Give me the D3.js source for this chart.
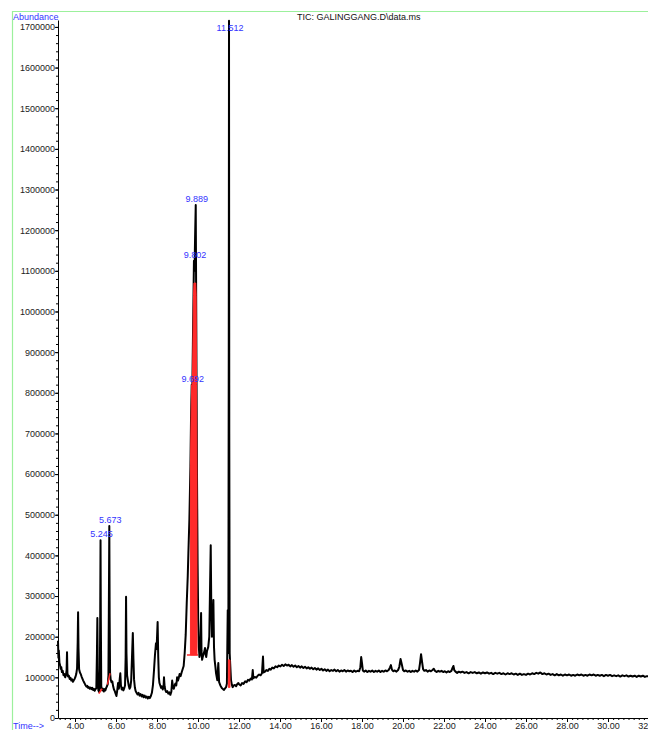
<!DOCTYPE html>
<html lang="en">
<head>
<meta charset="utf-8">
<title>TIC: GALINGGANG.D\data.ms</title>
<script src="https://d3js.org/d3.v7.min.js"></script>
<style type="text/css">
    body { margin: 0; background: #fff; }
    svg text { font-family: "Liberation Sans", Arial, sans-serif; }
</style>
</head>
<body>
<script>
// retention time (min), abundance
var tracePre = [
  [3.17,190000],[3.19,148000],[3.21,166000],[3.24,136000],[3.27,130000],[3.3,121000],[3.33,125000],[3.36,113000],
  [3.4,116000],[3.44,105000],[3.48,108000],[3.52,100000],[3.56,106000],[3.59,118000],[3.61,162000],[3.63,110000],
  [3.66,102000],[3.7,104000],[3.74,96000],[3.78,99000],[3.82,92000],[3.86,95000],[3.9,89000],[3.94,93000],
  [3.98,96000],[4.02,101000],[4.06,108000],[4.1,122000],[4.13,185000],[4.15,260000],[4.17,172000],[4.2,120000],
  [4.24,112000],[4.28,108000],[4.32,102000],[4.36,97000],[4.4,92000],[4.44,88000],[4.48,84000],[4.52,80000],
  [4.56,77000],[4.6,79000],[4.64,74000],[4.68,76000],[4.72,72000],[4.76,75000],[4.8,71000],[4.84,74000],
  [4.88,69000],[4.92,72000],[4.96,67000],[5.0,71000],[5.04,73000],[5.07,160000],[5.09,246000],[5.11,120000],
  [5.14,68000],[5.18,64000],[5.21,76000],[5.23,260000],[5.245,437000],[5.26,240000],[5.28,78000],[5.32,68000],
  [5.36,72000],[5.4,65000],[5.44,71000],[5.48,68000],[5.52,74000],[5.56,78000],[5.6,84000],[5.63,105000],
  [5.65,260000],[5.673,472000],[5.69,250000],[5.71,112000],[5.74,95000],[5.78,88000],[5.82,90000],[5.86,78000],
  [5.9,70000],[5.94,66000],[5.98,60000],[6.02,54000],[6.06,68000],[6.1,86000],[6.14,72000],[6.18,95000],
  [6.21,110000],[6.24,80000],[6.28,70000],[6.32,74000],[6.36,68000],[6.4,73000],[6.44,80000],[6.47,150000],
  [6.49,298000],[6.51,160000],[6.54,105000],[6.58,92000],[6.62,80000],[6.66,72000],[6.7,76000],[6.74,92000],
  [6.78,150000],[6.82,209000],[6.85,145000],[6.88,95000],[6.92,75000],[6.96,66000],[7.0,62000],[7.05,58000],
  [7.1,62000],[7.15,55000],[7.2,59000],[7.25,53000],[7.3,57000],[7.35,51000],[7.4,55000],[7.45,50000],
  [7.5,53000],[7.55,48000],[7.6,52000],[7.65,49000],[7.7,54000],[7.75,62000],[7.8,80000],[7.85,115000],
  [7.9,155000],[7.95,184000],[7.98,170000],[8.03,236000],[8.06,150000],[8.09,100000],[8.12,86000],[8.16,80000],
  [8.2,74000],[8.24,78000],[8.28,70000],[8.32,76000],[8.34,100000],[8.37,78000],[8.41,68000],[8.45,64000],
  [8.5,66000],[8.55,60000],[8.6,63000],[8.65,57000],[8.7,65000],[8.74,92000],[8.78,76000],[8.82,72000],
  [8.86,80000],[8.9,85000],[8.94,80000],[8.98,100000],[9.02,92000],[9.06,98000],[9.1,108000],[9.15,103000],
  [9.2,112000],[9.25,120000],[9.3,128000]
];

var traceMain = [
  [9.35,160000],[9.4,205000],[9.45,283000],[9.5,350000],[9.53,405000],[9.58,490000],[9.63,620000],[9.66,740000],
  [9.692,820000],[9.72,800000],[9.75,920000],[9.78,1040000],[9.802,1125000],[9.83,1100000],[9.86,1190000],
  [9.889,1262000],[9.91,1040000],[9.93,820000],[9.95,600000],[9.98,380000],[10.01,240000],[10.04,175000],
  [10.07,150000],[10.1,158000],[10.13,205000],[10.15,258000],[10.17,165000],[10.2,143000],[10.23,150000],
  [10.26,155000],[10.3,162000],[10.34,172000],[10.37,158000],[10.4,150000],[10.44,165000],[10.5,175000],
  [10.55,200000],[10.59,330000],[10.62,425000],[10.65,260000],[10.68,200000],[10.72,240000],[10.75,290000],
  [10.78,175000],[10.81,143000],[10.85,125000],[10.88,110000],[10.94,93000],[10.99,135000],[11.03,88000],
  [11.09,80000],[11.16,74000],[11.22,71000],[11.27,69000],[11.32,73000],[11.37,76000],[11.41,85000],
  [11.45,265000],[11.48,160000],[11.5,900000],[11.512,1715000],[11.525,700000],[11.545,160000],[11.56,143000],
  [11.61,93000],[11.65,82000],[11.69,76000],[11.74,80000],[11.8,81000],[11.86,78000],[11.92,84000],[11.97,86000]
];

var traceLate = [
  [12.0,83000],[12.08,80000],[12.15,86000],[12.22,84000],[12.3,90000],[12.37,88000],[12.44,94000],[12.5,92000],
  [12.57,97000],[12.63,95000],[12.67,118000],[12.7,98000],[12.77,101000],[12.84,99000],[12.91,104000],
  [12.98,107000],[13.05,105000],[13.12,110000],[13.17,151000],[13.2,112000],[13.27,114000],[13.34,118000],
  [13.41,116000],[13.48,121000],[13.55,119000],[13.62,124000],[13.7,122000],[13.78,127000],[13.86,125000],
  [13.94,129000],[14.02,127000],[14.1,131000],[14.18,128000],[14.26,132000],[14.34,129000],[14.42,131000],
  [14.5,127000],[14.58,130000],[14.66,126000],[14.74,129000],[14.82,125000],[14.9,128000],[14.98,124000],
  [15.06,127000],[15.14,123000],[15.22,126000],[15.3,122000],[15.38,125000],[15.46,121000],[15.54,124000],
  [15.62,120000],[15.7,123000],[15.78,119000],[15.86,122000],[15.94,118000],[16.02,121000],[16.1,117000],
  [16.18,120000],[16.26,116000],[16.34,119000],[16.42,115000],[16.5,118000],[16.58,116000],[16.66,119000],
  [16.74,115000],[16.82,118000],[16.9,114000],[16.98,117000],[17.06,115000],[17.14,118000],[17.22,114000],
  [17.3,117000],[17.38,115000],[17.46,116000],[17.54,113000],[17.62,117000],[17.7,114000],[17.78,116000],
  [17.86,115000],[17.92,125000],[17.96,150000],[18.0,135000],[18.04,117000],[18.1,114000],[18.18,117000],
  [18.26,113000],[18.34,116000],[18.42,114000],[18.5,117000],[18.58,113000],[18.66,116000],[18.74,114000],
  [18.82,117000],[18.9,113000],[18.98,116000],[19.06,114000],[19.14,117000],[19.22,115000],[19.3,118000],
  [19.36,124000],[19.41,130000],[19.46,119000],[19.52,115000],[19.6,117000],[19.68,114000],[19.76,118000],
  [19.82,126000],[19.88,145000],[19.94,132000],[20.0,118000],[20.06,115000],[20.14,117000],[20.22,114000],
  [20.3,116000],[20.38,113000],[20.46,116000],[20.54,114000],[20.62,117000],[20.7,114000],[20.78,118000],
  [20.83,135000],[20.88,157000],[20.93,138000],[20.98,120000],[21.04,116000],[21.12,118000],[21.2,114000],
  [21.28,117000],[21.36,115000],[21.44,118000],[21.5,121000],[21.56,116000],[21.64,113000],[21.72,116000],
  [21.8,114000],[21.88,116000],[21.96,113000],[22.04,115000],[22.12,112000],[22.2,115000],[22.28,113000],
  [22.36,116000],[22.42,124000],[22.46,128000],[22.5,118000],[22.56,114000],[22.64,111000],[22.72,114000],
  [22.8,112000],[22.9,114000],[23.0,111000],[23.1,113000],[23.2,110000],[23.3,113000],[23.4,111000],
  [23.5,113000],[23.6,110000],[23.7,112000],[23.8,109000],[23.9,112000],[24.0,110000],[24.1,112000],
  [24.2,109000],[24.3,111000],[24.4,108000],[24.5,111000],[24.6,109000],[24.7,111000],[24.8,108000],
  [24.9,110000],[25.0,107000],[25.1,110000],[25.2,108000],[25.3,110000],[25.4,107000],[25.5,109000],
  [25.6,106000],[25.7,109000],[25.8,106000],[25.9,108000],[26.0,106000],[26.1,109000],[26.2,107000],
  [26.3,110000],[26.4,108000],[26.5,111000],[26.6,109000],[26.7,112000],[26.8,108000],[26.9,110000],
  [27.0,107000],[27.1,109000],[27.2,106000],[27.3,108000],[27.4,105000],[27.5,108000],[27.6,105000],
  [27.7,107000],[27.8,104000],[27.9,107000],[28.0,105000],[28.1,107000],[28.2,104000],[28.3,106000],
  [28.4,104000],[28.5,107000],[28.6,105000],[28.7,107000],[28.8,104000],[28.9,106000],[29.0,104000],
  [29.1,107000],[29.2,105000],[29.3,107000],[29.4,104000],[29.5,106000],[29.6,104000],[29.7,106000],
  [29.8,103000],[29.9,106000],[30.0,104000],[30.1,106000],[30.2,103000],[30.3,105000],[30.4,103000],
  [30.5,105000],[30.6,102000],[30.7,105000],[30.8,103000],[30.9,105000],[31.0,102000],[31.1,104000],
  [31.2,102000],[31.3,104000],[31.4,101000],[31.5,104000],[31.6,102000],[31.7,104000],[31.8,101000],
  [31.9,103000],[32.0,102000],[32.1,103000]
];

// labelled peaks
var peakTimes = [5.245, 5.673, 9.692, 9.802, 9.889, 11.512];
var peakApex = [437000, 472000, 820000, 1125000, 1262000, 1715000];

// integration marks (red): baselines [t1, a1, t2, a2] and filled areas
var baseSegs = [[5.16, 60000, 5.32, 72000], [5.58, 82000, 5.71, 110000], [9.46, 155000, 10.0, 155000]];
var fillFrom = [9.61, 11.47];
var fillTo = [9.95, 11.56];
var fillBase = [155000, 75000];
var fillCap = [1070000, 143000];

var yTicks = [0, 100000, 200000, 300000, 400000, 500000, 600000, 700000, 800000, 900000,
              1000000, 1100000, 1200000, 1300000, 1400000, 1500000, 1600000, 1700000];
var xTicks = [4, 6, 8, 10, 12, 14, 16, 18, 20, 22, 24, 26, 28, 30, 32];

var width = 648, height = 730;
var trace = tracePre.concat(traceMain, traceLate);

var x = d3.scaleLinear().domain([3.17, 32.0]).range([58, 649]);
var y = d3.scaleLinear().domain([0, 1717000]).range([718, 20]);

var svg = d3.select("body").append("svg")
    .attr("width", width)
    .attr("height", height)
    .style("display", "block");

svg.append("rect").attr("width", width).attr("height", height).attr("fill", "#fff");

// green frame
svg.append("path")
    .attr("d", "M12.5,730V11.5H648")
    .attr("fill", "none")
    .attr("stroke", "#9cf09c")
    .attr("stroke-width", 1.2);

// axes
var yMinor = svg.append("g").attr("transform", "translate(58,0)")
    .call(d3.axisLeft(y).tickValues(d3.range(0, 1717000, 20000)).tickSize(2).tickFormat("").tickSizeOuter(0));
yMinor.select(".domain").remove();

var yAxis = svg.append("g").attr("transform", "translate(58,0)")
    .call(d3.axisLeft(y).tickValues(yTicks).tickSize(3).tickPadding(0).tickSizeOuter(0).tickFormat(d3.format("d")));

var xMinor = svg.append("g").attr("transform", "translate(0,718)")
    .call(d3.axisBottom(x).tickValues(d3.range(3.25, 32.3, 0.25)).tickSize(2).tickFormat("").tickSizeOuter(0));
xMinor.select(".domain").remove();

var xAxis = svg.append("g").attr("transform", "translate(0,718)")
    .call(d3.axisBottom(x).tickValues(xTicks).tickSize(4).tickPadding(1).tickSizeOuter(0).tickFormat(d3.format(".2f")));

svg.selectAll(".tick line, .domain").attr("stroke", "#000");
[yAxis, xAxis].forEach(function (g) {
    g.attr("font-family", null).attr("font-size", null);
    g.selectAll("text").attr("fill", "#222").style("font-size", "9px");
});

// the trace
var line = d3.line()
    .x(function (d) { return x(d[0]); })
    .y(function (d) { return y(d[1]); });

svg.append("path")
    .datum(trace)
    .attr("d", line)
    .attr("fill", "none")
    .attr("stroke", "#000")
    .attr("stroke-width", 2)
    .attr("stroke-linejoin", "round");

// red integration marks
fillFrom.forEach(function (f, i) {
    var pts = trace.filter(function (d) { return d[0] >= f && d[0] <= fillTo[i]; });
    svg.append("path")
        .datum(pts)
        .attr("d", d3.area()
            .x(function (d) { return x(d[0]); })
            .y0(y(fillBase[i]))
            .y1(function (d) { return y(Math.min(d[1], fillCap[i])); }))
        .attr("fill", "#ff2a2a")
        .attr("stroke", "#ff2a2a")
        .attr("stroke-width", 1);
});

svg.selectAll(".bl")
    .data(baseSegs)
    .enter().append("line")
    .attr("x1", function (d) { return x(d[0]); })
    .attr("y1", function (d) { return y(d[1]); })
    .attr("x2", function (d) { return x(d[2]); })
    .attr("y2", function (d) { return y(d[3]); })
    .attr("stroke", "#ff2a2a")
    .attr("stroke-width", 1.5);

// peak labels
svg.selectAll(".pk")
    .data(peakTimes)
    .enter().append("text")
    .attr("x", function (d) { return x(d) + 1; })
    .attr("y", function (d, i) { return Math.max(y(peakApex[i]) - 3, 31); })
    .attr("text-anchor", "middle")
    .attr("fill", "#3333ff")
    .style("font-size", "9px")
    .text(function (d) { return d.toFixed(3); });

// titles
svg.append("text").attr("x", 13).attr("y", 20)
    .attr("fill", "#3333ff").style("font-size", "9px").text("Abundance");
svg.append("text").attr("x", 297).attr("y", 20)
    .attr("fill", "#111").style("font-size", "9px").text("TIC: GALINGGANG.D\\data.ms");
svg.append("text").attr("x", 13).attr("y", 729)
    .attr("fill", "#3333ff").style("font-size", "9px").text("Time-->");
</script>
</body>
</html>
